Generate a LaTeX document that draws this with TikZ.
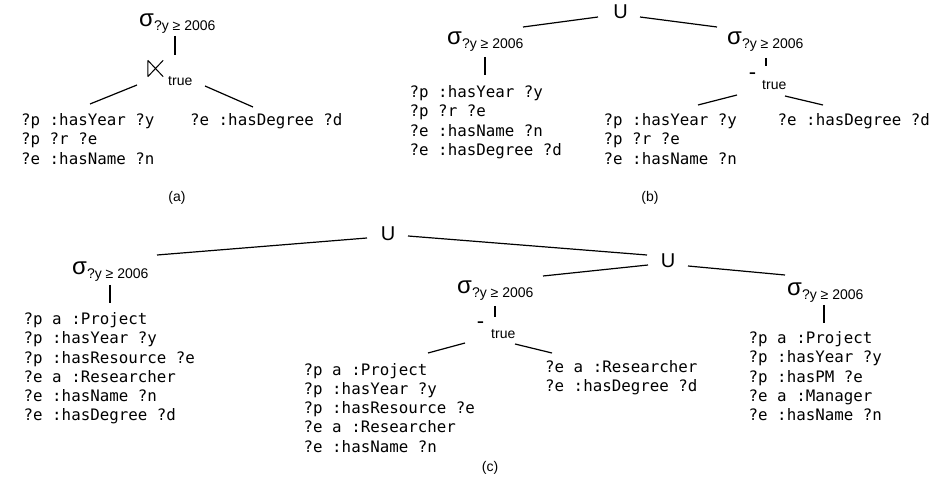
\documentclass[tikz,border=0pt]{standalone}
\usepackage{fontspec}
\setmainfont{Liberation Sans}
\newfontfamily\monofont{DejaVu Sans Mono}
\newcommand\sigfont{\fontsize{24}{24}\selectfont}
\newcommand\subfont{\fontsize{14}{14}\selectfont}
\newcommand\sel{{\sigfont σ}\raisebox{-4pt}{\subfont ?y ≥ 2006}}
\newcommand\tlines[1]{\fontsize{15.8}{19.3}\selectfont\begin{tabular}[t]{@{}l@{}}#1\end{tabular}}
\tikzset{
  mono/.style={font=\monofont, inner sep=0pt, anchor=base west},
  selnode/.style={inner sep=0pt, anchor=base west},
  unode/.style={inner sep=0pt, anchor=base, font=\fontsize{20}{20}\selectfont},
  minusnode/.style={inner sep=0pt, anchor=center, font=\fontsize{22}{22}\selectfont},
  subnode/.style={inner sep=0pt, anchor=base west, font=\subfont},
  capnode/.style={inner sep=0pt, anchor=center, font=\fontsize{14}{14}\selectfont},
  joinnode/.style={inner sep=0pt, minimum width=15pt, minimum height=16pt},
  edge/.style={line width=1.2pt}
}
\begin{document}
\begin{tikzpicture}[x=1pt,y=-1pt]
\useasboundingbox (0,0) rectangle (935,481);
% ---------------- (a)
\node[selnode] (sA) at (139,27) {\sel};
\node[joinnode] (jA) at (155.5,68.5) {};
\draw[line width=1pt] (jA.north west) -- (jA.south west)
  (jA.north west) -- (jA.south east) (jA.south west) -- (jA.north east);
\node[subnode] (tA) at (168,86) {true};
\node[mono] (pA1) at (21,125.5) {\tlines{?p :hasYear ?y\\?p ?r ?e\\?e :hasName ?n}};
\node[mono] (pA2) at (190,125.5) {\tlines{?e :hasDegree ?d}};
\node[capnode] (capA) at (177,198) {(a)};
\coordinate (a1) at (175,36); \coordinate (a2) at (175,55);
\coordinate (a3) at (137,85); \coordinate (a4) at (90,104);
\coordinate (a5) at (205,86); \coordinate (a6) at (253,107);
\draw[edge] (a1) -- (a2);
\draw[edge] (a3) -- (a4);
\draw[edge] (a5) -- (a6);
% ---------------- (b)
\node[unode] (uB) at (620.5,19) {U};
\node[selnode] (sB1) at (447,45) {\sel};
\node[selnode] (sB2) at (727,45) {\sel};
\node[mono] (pB1) at (409.5,97.7) {\tlines{?p :hasYear ?y\\?p ?r ?e\\?e :hasName ?n\\?e :hasDegree ?d}};
\node[minusnode] (mB) at (752.5,76) {-};
\node[subnode] (tB) at (762,89.5) {true};
\node[mono] (pB2) at (603.5,125.5) {\tlines{?p :hasYear ?y\\?p ?r ?e\\?e :hasName ?n}};
\node[mono] (pB3) at (777.5,125.5) {\tlines{?e :hasDegree ?d}};
\node[capnode] (capB) at (650,198) {(b)};
\coordinate (b1) at (598,17); \coordinate (b2) at (523,27);
\coordinate (b3) at (640,17); \coordinate (b4) at (717,27);
\coordinate (b5) at (485,57); \coordinate (b6) at (485,75);
\coordinate (b7) at (766,58); \coordinate (b8) at (766,66);
\coordinate (b9) at (737,95); \coordinate (b10) at (698,105);
\coordinate (b11) at (785,96); \coordinate (b12) at (823,105);
\draw[edge] (b1) -- (b2);
\draw[edge] (b3) -- (b4);
\draw[edge] (b5) -- (b6);
\draw[edge] (b7) -- (b8);
\draw[edge] (b9) -- (b10);
\draw[edge] (b11) -- (b12);
% ---------------- (c)
\node[unode] (uC1) at (388,241) {U};
\node[unode] (uC2) at (668,268) {U};
\node[selnode] (sC1) at (72,275) {\sel};
\node[selnode] (sC2) at (457,294) {\sel};
\node[selnode] (sC3) at (787,295) {\sel};
\node[minusnode] (mC) at (480.5,325) {-};
\node[subnode] (tC) at (491,338.5) {true};
\node[mono] (pC1) at (23.5,324.5) {\tlines{?p a :Project\\?p :hasYear ?y\\?p :hasResource ?e\\?e a :Researcher\\?e :hasName ?n\\?e :hasDegree ?d}};
\node[mono] (pC2) at (303.5,375) {\tlines{?p a :Project\\?p :hasYear ?y\\?p :hasResource ?e\\?e a :Researcher\\?e :hasName ?n}};
\node[mono] (pC3) at (545,372) {\tlines{?e a :Researcher\\?e :hasDegree ?d}};
\node[mono] (pC4) at (748.5,343.5) {\tlines{?p a :Project\\?p :hasYear ?y\\?p :hasPM ?e\\?e a :Manager\\?e :hasName ?n}};
\node[capnode] (capC) at (490,468) {(c)};
\coordinate (c1) at (367,238); \coordinate (c2) at (157,255);
\coordinate (c3) at (408,236); \coordinate (c4) at (647,255);
\coordinate (c5) at (648,265); \coordinate (c6) at (543,276);
\coordinate (c7) at (688,266); \coordinate (c8) at (785,275);
\coordinate (c9) at (110,285); \coordinate (c10) at (110,303);
\coordinate (c11) at (495,306); \coordinate (c12) at (495,317);
\coordinate (c13) at (465,343); \coordinate (c14) at (428,353);
\coordinate (c15) at (515,344); \coordinate (c16) at (552,353);
\coordinate (c17) at (824,305); \coordinate (c18) at (824,323);
\draw[edge] (c1) -- (c2);
\draw[edge] (c3) -- (c4);
\draw[edge] (c5) -- (c6);
\draw[edge] (c7) -- (c8);
\draw[edge] (c9) -- (c10);
\draw[edge] (c11) -- (c12);
\draw[edge] (c13) -- (c14);
\draw[edge] (c15) -- (c16);
\draw[edge] (c17) -- (c18);
\end{tikzpicture}
\end{document}
